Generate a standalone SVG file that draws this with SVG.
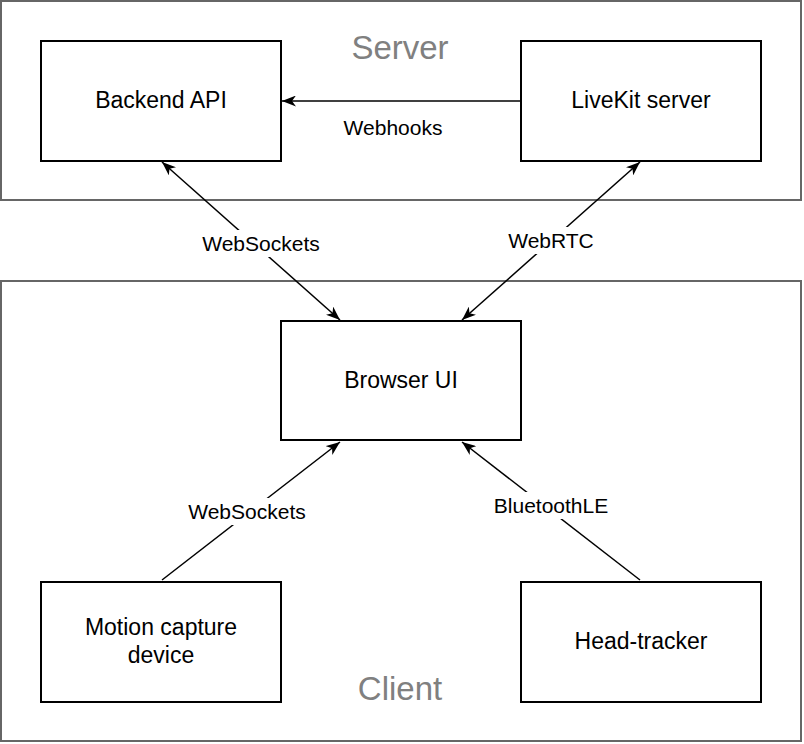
<svg xmlns="http://www.w3.org/2000/svg" width="804" height="744" viewBox="0 0 804 744">
<style>
  .container { fill: #ffffff; stroke: #666666; stroke-width: 2; }
  .box { fill: #ffffff; stroke: #000000; stroke-width: 2; }
  .ntext { font-family: "Liberation Sans", Arial, Helvetica, sans-serif; font-size: 23px; fill: #000000; text-anchor: middle; }
  .ctext { font-family: "Liberation Sans", Arial, Helvetica, sans-serif; font-size: 33px; fill: #808080; text-anchor: middle; }
  .elabel { font-family: "Liberation Sans", Arial, Helvetica, sans-serif; font-size: 21px; fill: #000000; text-anchor: middle; }
  .edge { fill: none; stroke: #000000; stroke-width: 1.5; }
  .lbg { fill: #ffffff; stroke: none; }
</style>
<defs>
  <marker id="arrow" viewBox="0 0 14 11" refX="14" refY="5.5" markerWidth="14" markerHeight="11" markerUnits="userSpaceOnUse" orient="auto-start-reverse">
    <path d="M14,5.5 L0,0 L4,5.5 L0,11 Z" fill="#000000"/>
  </marker>
</defs>
<rect width="804" height="744" fill="#ffffff"/>

<g id="server-container">
  <rect class="container" x="1" y="1" width="800" height="199"/>
  <text class="ctext" x="400" y="59">Server</text>
</g>
<g id="client-container">
  <rect class="container" x="1" y="281" width="800" height="460"/>
  <text class="ctext" x="400" y="700">Client</text>
</g>

<g id="connectors">
  <line class="edge" x1="520" y1="101" x2="282" y2="101" marker-end="url(#arrow)"/>
  <line class="edge" x1="162" y1="162" x2="340" y2="320" marker-start="url(#arrow)" marker-end="url(#arrow)"/>
  <line class="edge" x1="640" y1="162" x2="462" y2="320" marker-start="url(#arrow)" marker-end="url(#arrow)"/>
  <line class="edge" x1="162" y1="580" x2="340" y2="442" marker-end="url(#arrow)"/>
  <line class="edge" x1="640" y1="580" x2="462" y2="442" marker-end="url(#arrow)"/>

  <g id="label-webhooks">
    <text class="elabel" x="393" y="135">Webhooks</text>
  </g>
  <g id="label-websockets-top">
    <rect class="lbg" x="196" y="230" width="130" height="27"/>
    <text class="elabel" x="261" y="251">WebSockets</text>
  </g>
  <g id="label-webrtc">
    <rect class="lbg" x="501" y="227" width="100" height="27"/>
    <text class="elabel" x="551" y="248">WebRTC</text>
  </g>
  <g id="label-websockets-bottom">
    <rect class="lbg" x="182" y="498" width="130" height="27"/>
    <text class="elabel" x="247" y="519">WebSockets</text>
  </g>
  <g id="label-bluetooth">
    <rect class="lbg" x="486" y="492" width="130" height="27"/>
    <text class="elabel" x="551" y="513">BluetoothLE</text>
  </g>
</g>

<g id="node-backend-api">
  <rect class="box" x="41" y="41" width="240" height="120"/>
  <text class="ntext" x="161" y="108">Backend API</text>
</g>
<g id="node-livekit-server">
  <rect class="box" x="521" y="41" width="240" height="120"/>
  <text class="ntext" x="641" y="108">LiveKit server</text>
</g>
<g id="node-browser-ui">
  <rect class="box" x="281" y="321" width="240" height="119"/>
  <text class="ntext" x="401" y="388">Browser UI</text>
</g>
<g id="node-motion-capture">
  <rect class="box" x="41" y="582" width="240" height="120"/>
  <text class="ntext" x="161" y="635">Motion capture</text>
  <text class="ntext" x="161" y="663">device</text>
</g>
<g id="node-head-tracker">
  <rect class="box" x="521" y="582" width="240" height="120"/>
  <text class="ntext" x="641" y="649">Head-tracker</text>
</g>
</svg>
